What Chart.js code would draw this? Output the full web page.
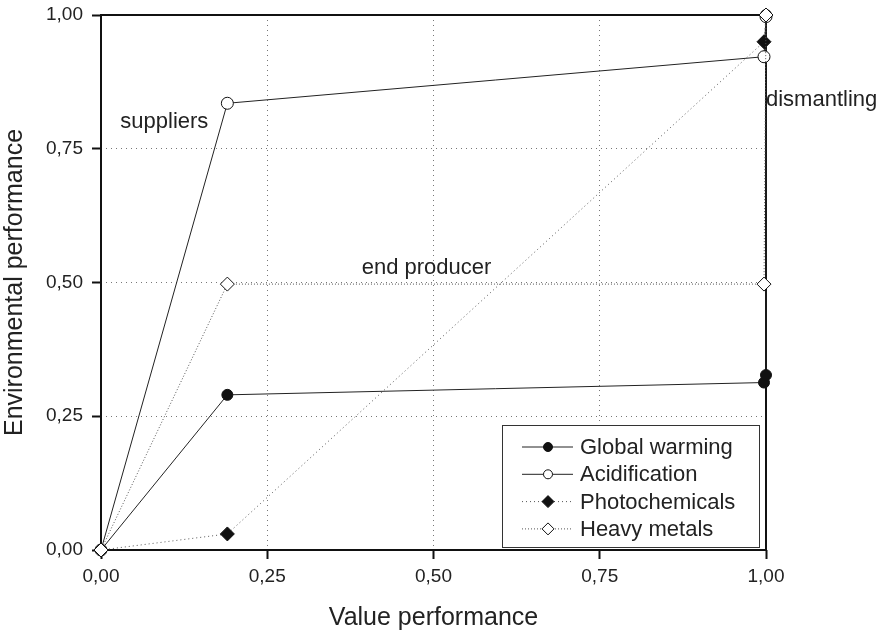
<!DOCTYPE html>
<html>
<head>
<meta charset="utf-8">
<script src="https://cdn.jsdelivr.net/npm/chart.js@4/dist/chart.umd.min.js"></script>
<style>
  html, body { margin: 0; padding: 0; background: #fff; }
  #wrap { width: 886px; height: 633px; }
</style>
</head>
<body>
<div id="wrap"><canvas id="chart" width="886" height="633"></canvas></div>
<script>
// values (x = value performance, y = environmental performance)
const seriesNames = ['Global warming', 'Acidification', 'Photochemicals', 'Heavy metals'];
const globalWarmingX = [0, 0.19, 0.997, 1.0, 1.0];
const globalWarmingY = [0, 0.29, 0.313, 0.327, 1.0];
const acidificationX = [0, 0.19, 0.997, 1.0];
const acidificationY = [0, 0.835, 0.922, 0.997];
const photochemicalsX = [0, 0.19, 0.997, 1.0];
const photochemicalsY = [0, 0.03, 0.95, 1.0];
const heavyMetalsX = [0, 0.19, 0.997, 1.0];
const heavyMetalsY = [0, 0.497, 0.497, 1.0];
const tickValues = [0, 0.25, 0.5, 0.75, 1];
const stageLabels = [
    { text: 'suppliers', x: 0.029, y: 0.8 },
    { text: 'end producer', x: 0.392, y: 0.527 },
    { text: 'dismantling', x: 1.0, y: 0.841 }
];

const FONT = '"Liberation Sans", Arial, sans-serif';

function pts(xs, ys) {
    return xs.map((x, i) => ({ x: x, y: ys[i] }));
}

function fmt(v) {
    return v.toFixed(2).replace('.', ',');
}

const styles = [
    { dash: [], lineColor: '#222', pointStyle: 'circle', fill: '#111', radius: 5.5 },
    { dash: [], lineColor: '#222', pointStyle: 'circle', fill: '#fff', radius: 6 },
    { dash: [1, 3], lineColor: '#555', pointStyle: 'rectRot', fill: '#111', radius: 7 },
    { dash: [1, 2], lineColor: '#555', pointStyle: 'rectRot', fill: '#fff', radius: 7 }
];

const allData = [
    pts(globalWarmingX, globalWarmingY),
    pts(acidificationX, acidificationY),
    pts(photochemicalsX, photochemicalsY),
    pts(heavyMetalsX, heavyMetalsY)
];

const datasets = seriesNames.map((name, i) => ({
    label: name,
    data: allData[i],
    showLine: true,
    borderColor: styles[i].lineColor,
    borderWidth: 1,
    borderDash: styles[i].dash,
    pointStyle: styles[i].pointStyle,
    pointRadius: styles[i].radius,
    pointBackgroundColor: styles[i].fill,
    pointBorderColor: '#111',
    pointBorderWidth: 1,
    order: 3 - i,
    clip: false
}));

// black frame round the plot area
const framePlugin = {
    id: 'frame',
    beforeDatasetsDraw(chart) {
        const a = chart.chartArea;
        const ctx = chart.ctx;
        ctx.save();
        ctx.strokeStyle = '#111';
        ctx.lineWidth = 2;
        ctx.strokeRect(a.left, a.top, a.right - a.left, a.bottom - a.top);
        ctx.restore();
    }
};

const textPlugin = {
    id: 'stageText',
    afterDatasetsDraw(chart) {
        const ctx = chart.ctx;
        const xs = chart.scales.x, ys = chart.scales.y;
        ctx.save();
        ctx.font = '22px ' + FONT;
        ctx.fillStyle = '#222';
        ctx.textBaseline = 'middle';
        ctx.textAlign = 'left';
        stageLabels.forEach(l => {
            ctx.fillText(l.text, xs.getPixelForValue(l.x), ys.getPixelForValue(l.y));
        });
        ctx.restore();
    }
};

const legendPlugin = {
    id: 'boxLegend',
    afterDraw(chart) {
        const ctx = chart.ctx;
        const a = chart.chartArea;
        const left = a.right - 264, top = a.bottom - 125;
        const right = a.right - 7, bottom = a.bottom - 3;
        ctx.save();
        ctx.fillStyle = '#fff';
        ctx.fillRect(left, top, right - left, bottom - top);
        ctx.strokeStyle = '#333';
        ctx.lineWidth = 1;
        ctx.strokeRect(left + 0.5, top + 0.5, right - left, bottom - top);
        seriesNames.forEach((name, i) => {
            const y = top + 22 + i * 27.3;
            const st = styles[i];
            ctx.strokeStyle = st.lineColor;
            ctx.setLineDash(st.dash);
            ctx.beginPath();
            ctx.moveTo(left + 20, y);
            ctx.lineTo(left + 71, y);
            ctx.stroke();
            ctx.setLineDash([]);
            ctx.fillStyle = st.fill;
            ctx.strokeStyle = '#111';
            const cx = left + 46;
            ctx.beginPath();
            if (st.pointStyle === 'circle') {
                ctx.arc(cx, y, 4.5, 0, Math.PI * 2);
            } else {
                ctx.moveTo(cx, y - 6);
                ctx.lineTo(cx + 6, y);
                ctx.lineTo(cx, y + 6);
                ctx.lineTo(cx - 6, y);
                ctx.closePath();
            }
            ctx.fill();
            ctx.stroke();
            ctx.fillStyle = '#222';
            ctx.font = '22px ' + FONT;
            ctx.textAlign = 'left';
            ctx.textBaseline = 'middle';
            ctx.fillText(name, left + 78, y + 1);
        });
        ctx.restore();
    }
};

new Chart(document.getElementById('chart'), {
    type: 'scatter',
    data: { datasets: datasets },
    options: {
        responsive: false,
        animation: false,
        layout: { padding: { top: 15, right: 120, left: 0, bottom: 0 } },
        plugins: {
            legend: { display: false },
            tooltip: { enabled: false }
        },
        scales: {
            x: {
                type: 'linear',
                min: 0,
                max: 1,
                afterBuildTicks(scale) {
                    scale.ticks = tickValues.map(v => ({ value: v }));
                },
                afterFit(scale) {
                    scale.height = 83;
                    scale.paddingLeft = 0;
                    scale.paddingRight = 0;
                },
                border: { display: false, dash: [1, 4] },
                grid: {
                    color: '#777',
                    tickColor: '#111',
                    tickLength: 9,
                    tickWidth: 2,
                    lineWidth: 1
                },
                ticks: {
                    color: '#222',
                    font: { family: FONT, size: 19 },
                    padding: 6,
                    maxRotation: 0,
                    callback: v => fmt(v)
                },
                title: {
                    display: true,
                    text: 'Value performance',
                    color: '#222',
                    font: { family: FONT, size: 25 },
                    padding: { top: 8, bottom: 0 }
                }
            },
            y: {
                type: 'linear',
                min: 0,
                max: 1,
                afterBuildTicks(scale) {
                    scale.ticks = tickValues.map(v => ({ value: v }));
                },
                afterFit(scale) {
                    scale.width = 101;
                    scale.paddingTop = 0;
                    scale.paddingBottom = 0;
                },
                border: { display: false, dash: [1, 4] },
                grid: {
                    color: '#777',
                    tickColor: '#111',
                    tickLength: 9,
                    tickWidth: 2,
                    lineWidth: 1
                },
                ticks: {
                    color: '#222',
                    font: { family: FONT, size: 19 },
                    padding: 9,
                    callback: v => fmt(v)
                },
                title: {
                    display: true,
                    text: 'Environmental performance',
                    color: '#222',
                    font: { family: FONT, size: 25 },
                    padding: { top: 0, bottom: 6 }
                }
            }
        }
    },
    plugins: [framePlugin, textPlugin, legendPlugin]
});
</script>
</body>
</html>
